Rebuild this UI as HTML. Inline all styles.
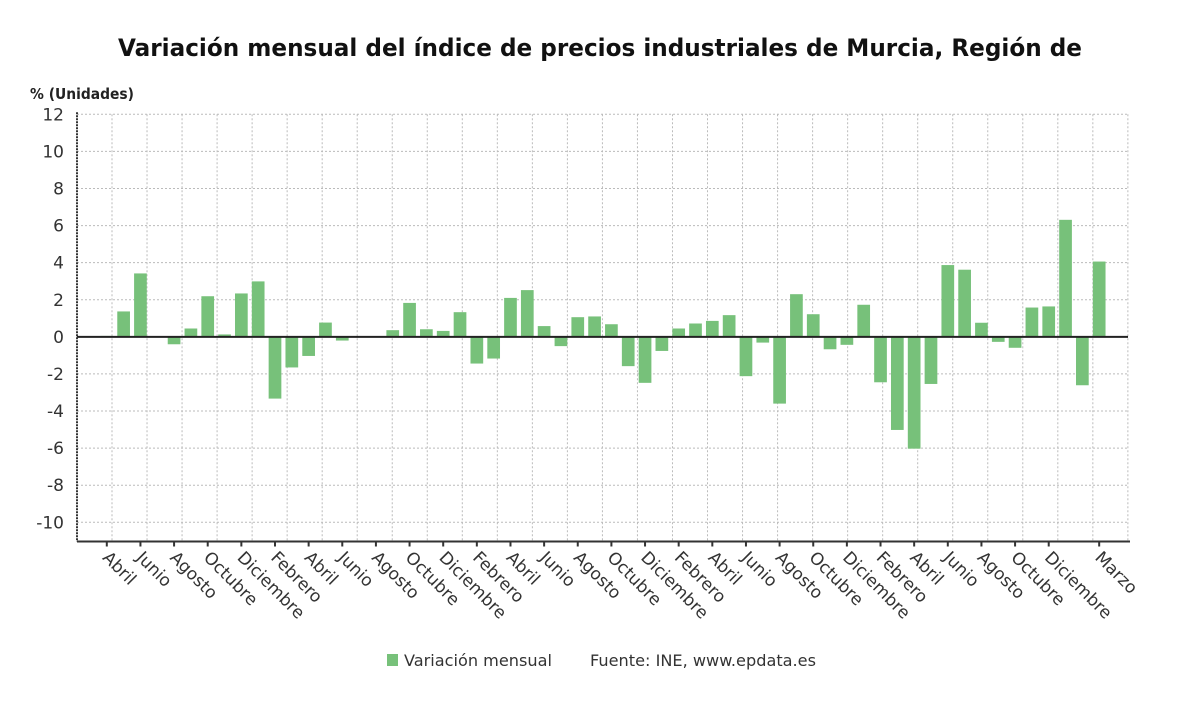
<!DOCTYPE html>
<html><head><meta charset="utf-8"><style>
html,body{margin:0;padding:0;background:#fff;}
svg{display:block;font-family:"DejaVu Sans","Liberation Sans",sans-serif;}
</style></head><body>
<svg id="chart" width="1200" height="705">
<text x="118" y="56" textLength="964" lengthAdjust="spacingAndGlyphs" font-size="24" font-weight="bold" fill="#111">Variación mensual del índice de precios industriales de Murcia, Región de</text>
<text x="30" y="99" font-size="15" font-weight="bold" textLength="104" lengthAdjust="spacingAndGlyphs" fill="#222">% (Unidades)</text>
<g id="grid"></g><g id="bars"></g><g id="axes"></g>
<g>
<rect x="387" y="654" width="11" height="12" fill="#77c17a"/>
<text x="404" y="666" font-size="16" textLength="148" lengthAdjust="spacingAndGlyphs" fill="#333">Variación mensual</text>
<text x="590" y="666" font-size="16" textLength="226" lengthAdjust="spacingAndGlyphs" fill="#333">Fuente: INE, www.epdata.es</text>
</g>
</svg>
<script>
const months = ["Abril","Mayo","Junio","Julio","Agosto","Septiembre","Octubre","Noviembre","Diciembre","Enero","Febrero","Marzo"];
const values = [0.05,1.37,3.42,0.02,-0.4,0.45,2.19,0.13,2.34,2.99,
-3.33,-1.65,-1.03,0.77,-0.2,-0.02,0.02,0.36,1.83,0.41,
0.32,1.33,-1.44,-1.17,2.1,2.52,0.58,-0.5,1.06,1.1,
0.68,-1.58,-2.48,-0.76,0.45,0.72,0.86,1.17,-2.12,-0.31,
-3.6,2.3,1.22,-0.67,-0.43,1.73,-2.45,-5.02,-6.03,-2.54,
3.87,3.62,0.76,-0.27,-0.59,1.58,1.64,6.31,-2.61,4.06];
const yTicks = [12,10,8,6,4,2,0,-2,-4,-6,-8,-10];
const NS="http://www.w3.org/2000/svg";
const L=77,R=1128,T=114.3,B=541.5,yMax=12;
const x0=106.8,step=16.82,bw=12.7;
function y(v){return T+(yMax-v)*(522.3-T)/(yMax-(-10));}
function x(i){return x0+i*step;}
function el(tag,attrs,parent){const e=document.createElementNS(NS,tag);for(const k in attrs)e.setAttribute(k,attrs[k]);parent.appendChild(e);return e;}
const grid=document.getElementById('grid'),bars=document.getElementById('bars'),axes=document.getElementById('axes');
for(let gx=L+35;gx<=R+1;gx+=35.03){const l=el('line',{x1:gx,x2:gx,y1:T,y2:B,stroke:'#bbb','stroke-dasharray':'2,2'},grid);

}
yTicks.forEach(v=>{const yy=y(v);
if(v!==0){const l=el('line',{x1:L,x2:R,y1:yy,y2:yy,stroke:'#bbb','stroke-dasharray':'2,2'},grid);

}
const t=el('text',{x:64,y:yy+6,'text-anchor':'end','font-size':17,fill:'#333'},axes);t.textContent=v;

});
values.forEach((v,i)=>{const y1=y(Math.max(v,0)),y2=y(Math.min(v,0));
const r=el('rect',{x:x(i)-bw/2,y:y1,width:bw,height:Math.max(y2-y1,0.6),fill:'#77c17a'},bars);

});
let a=el('line',{x1:L,x2:R,y1:y(0),y2:y(0),stroke:'#222','stroke-width':2},axes);


a=el('line',{x1:L,x2:L,y1:T-2,y2:B,stroke:'#333','stroke-width':2,'stroke-dasharray':'2,1'},axes);


a=el('line',{x1:L,x2:R+2,y1:B,y2:B,stroke:'#333','stroke-width':2},axes);


const labelIdx=[0,2,4,6,8,10,12,14,16,18,20,22,24,26,28,30,32,34,36,38,40,42,44,46,48,50,52,54,56,59];
labelIdx.forEach(i=>{const xx=x(i);
const tk=el('line',{x1:xx,x2:xx,y1:B,y2:B+5,stroke:'#333','stroke-width':2},axes);


const t=el('text',{x:xx-5,y:B+17,'font-size':17,fill:'#333',transform:`rotate(45 ${xx-5} ${B+17})`},axes);
t.textContent=months[i%12];

});
</script>
</body></html>
